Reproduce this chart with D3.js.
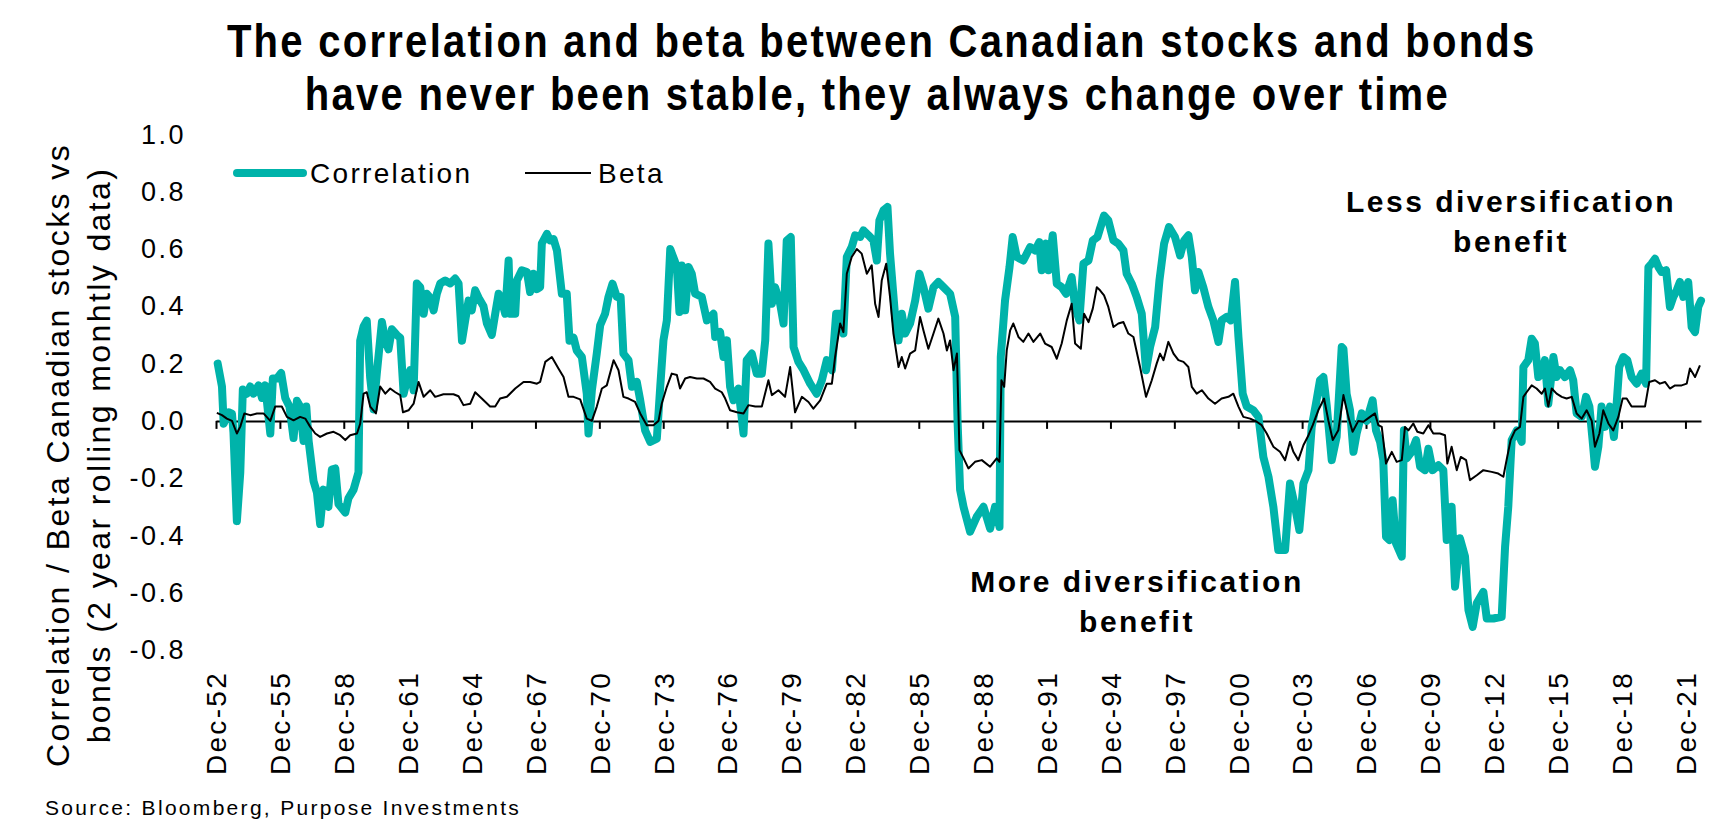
<!DOCTYPE html>
<html>
<head>
<meta charset="utf-8">
<script src="https://cdn.jsdelivr.net/npm/d3@7"></script>
<style>
body { margin: 0; background: #fff; }
svg { display: block; font-family: "Liberation Sans", Arial, sans-serif; }
</style>
</head>
<body>
<svg id="chart"></svg>
<script>
// values (decimal years)
var corrYears = [1953.00,1953.20,1953.28,1953.51,1953.67,1953.74,1953.90,1954.06,1954.18,1954.37,1954.53,1954.68,1954.92,1955.08,1955.23,1955.47,1955.59,1955.78,1955.98,1956.17,1956.37,1956.56,1956.72,1956.87,1957.03,1957.16,1957.27,1957.50,1957.66,1957.81,1957.97,1958.20,1958.36,1958.52,1958.67,1958.99,1959.14,1959.38,1959.61,1959.69,1959.85,1960.00,1960.16,1960.32,1960.47,1960.71,1960.87,1961.02,1961.18,1961.41,1961.57,1961.73,1961.88,1962.04,1962.20,1962.35,1962.51,1962.67,1962.82,1962.98,1963.14,1963.29,1963.45,1963.68,1963.92,1964.15,1964.31,1964.47,1964.62,1964.78,1964.93,1965.09,1965.25,1965.48,1965.64,1965.87,1966.03,1966.19,1966.34,1966.50,1966.66,1966.73,1966.97,1967.05,1967.28,1967.52,1967.67,1967.83,1967.99,1968.14,1968.22,1968.46,1968.61,1968.77,1968.93,1969.16,1969.39,1969.52,1969.71,1969.86,1970.10,1970.33,1970.41,1970.57,1970.80,1970.96,1971.19,1971.35,1971.54,1971.74,1971.92,1972.05,1972.29,1972.45,1972.68,1972.84,1973.07,1973.31,1973.62,1973.78,1973.93,1974.09,1974.25,1974.45,1974.56,1974.68,1974.79,1974.95,1975.11,1975.26,1975.42,1975.73,1975.97,1976.28,1976.36,1976.59,1976.75,1976.91,1977.06,1977.22,1977.45,1977.69,1977.84,1978.08,1978.31,1978.55,1978.71,1978.86,1979.02,1979.17,1979.41,1979.57,1979.72,1979.91,1980.04,1980.27,1980.51,1980.82,1981.13,1981.37,1981.60,1981.84,1982.04,1982.23,1982.38,1982.54,1982.77,1982.93,1983.17,1983.32,1983.56,1983.79,1983.95,1984.07,1984.26,1984.45,1984.57,1984.81,1984.97,1985.12,1985.28,1985.51,1985.75,1985.95,1986.14,1986.37,1986.61,1986.84,1987.08,1987.39,1987.63,1987.74,1987.86,1988.02,1988.33,1988.64,1988.96,1989.27,1989.50,1989.71,1989.77,1989.97,1990.18,1990.33,1990.52,1990.83,1991.15,1991.38,1991.58,1991.69,1991.90,1992.01,1992.21,1992.40,1992.63,1992.84,1993.10,1993.26,1993.46,1993.65,1993.89,1994.09,1994.31,1994.62,1994.82,1995.06,1995.29,1995.53,1995.68,1995.92,1996.15,1996.39,1996.59,1996.78,1997.02,1997.22,1997.44,1997.67,1997.95,1998.19,1998.38,1998.58,1998.74,1998.89,1999.05,1999.28,1999.52,1999.75,1999.99,2000.14,2000.38,2000.57,2000.77,2000.93,2001.13,2001.32,2001.63,2001.87,2002.10,2002.34,2002.57,2002.80,2003.12,2003.35,2003.59,2003.79,2003.98,2004.22,2004.37,2004.57,2004.76,2004.92,2005.08,2005.31,2005.54,2005.78,2005.86,2006.01,2006.17,2006.33,2006.48,2006.72,2006.95,2007.23,2007.39,2007.58,2007.73,2007.86,2008.02,2008.17,2008.33,2008.60,2008.70,2008.83,2009.06,2009.27,2009.46,2009.69,2009.85,2010.05,2010.32,2010.55,2010.71,2010.94,2011.10,2011.33,2011.57,2011.73,2011.93,2012.12,2012.43,2012.59,2012.90,2013.29,2013.45,2013.60,2013.76,2014.00,2014.23,2014.31,2014.54,2014.70,2014.85,2015.01,2015.17,2015.32,2015.48,2015.72,2015.87,2016.03,2016.26,2016.50,2016.65,2016.81,2017.05,2017.25,2017.41,2017.56,2017.67,2017.83,2017.98,2018.14,2018.38,2018.56,2018.69,2018.81,2019.00,2019.19,2019.39,2019.63,2019.86,2020.07,2020.18,2020.33,2020.49,2020.65,2020.80,2021.01,2021.19,2021.35,2021.51,2021.66,2021.82,2022.05,2022.21,2022.37,2022.52,2022.65];
var corrValues = [0.20,0.12,-0.01,0.03,0.025,-0.04,-0.35,-0.18,0.11,0.095,0.12,0.095,0.124,0.08,0.124,-0.044,0.148,0.148,0.167,0.08,0.05,-0.06,0.07,0.05,-0.07,0.05,-0.07,-0.21,-0.25,-0.36,-0.24,-0.30,-0.17,-0.166,-0.29,-0.32,-0.27,-0.24,-0.18,0.28,0.33,0.35,0.15,0.04,0.165,0.345,0.28,0.25,0.32,0.30,0.29,0.095,0.14,0.177,0.107,0.48,0.467,0.374,0.444,0.43,0.386,0.444,0.48,0.49,0.48,0.497,0.48,0.28,0.35,0.42,0.386,0.456,0.43,0.40,0.34,0.30,0.374,0.444,0.42,0.374,0.56,0.374,0.374,0.49,0.526,0.52,0.45,0.514,0.46,0.467,0.62,0.653,0.63,0.635,0.595,0.444,0.444,0.28,0.29,0.246,0.223,0.095,-0.044,0.107,0.235,0.334,0.374,0.433,0.479,0.433,0.433,0.235,0.212,0.119,0.136,0.072,-0.033,-0.073,-0.062,0.119,0.281,0.351,0.60,0.56,0.537,0.38,0.543,0.386,0.537,0.514,0.444,0.433,0.351,0.374,0.293,0.31,0.223,0.281,0.119,0.072,0.113,-0.044,0.212,0.235,0.165,0.165,0.281,0.619,0.409,0.467,0.409,0.34,0.63,0.642,0.258,0.206,0.177,0.13,0.095,0.142,0.212,0.177,0.374,0.374,0.305,0.572,0.607,0.648,0.642,0.665,0.648,0.63,0.56,0.70,0.735,0.747,0.584,0.363,0.281,0.374,0.305,0.34,0.42,0.514,0.467,0.392,0.467,0.485,0.467,0.444,0.363,0.0,-0.24,-0.30,-0.387,-0.335,-0.30,-0.376,-0.30,-0.37,0.223,0.42,0.537,0.642,0.572,0.56,0.607,0.595,0.624,0.526,0.619,0.526,0.648,0.479,0.467,0.444,0.502,0.398,0.351,0.549,0.56,0.63,0.642,0.717,0.70,0.63,0.619,0.595,0.514,0.479,0.433,0.374,0.177,0.258,0.328,0.49,0.619,0.677,0.642,0.578,0.63,0.648,0.572,0.456,0.52,0.467,0.398,0.351,0.276,0.351,0.363,0.351,0.485,0.293,0.095,0.05,0.037,0.014,-0.126,-0.195,-0.30,-0.451,-0.451,-0.219,-0.30,-0.381,-0.219,-0.172,-0.021,0.06,0.142,0.153,0.05,-0.137,-0.056,0.258,0.252,0.095,0.037,-0.108,-0.044,0.026,0.0,0.072,-0.033,-0.073,-0.137,-0.405,-0.416,-0.277,-0.428,-0.474,-0.033,-0.131,-0.108,-0.067,-0.16,-0.172,-0.097,-0.172,-0.155,-0.172,-0.416,-0.30,-0.579,-0.41,-0.474,-0.66,-0.719,-0.637,-0.597,-0.69,-0.69,-0.684,-0.44,-0.30,-0.067,-0.033,-0.073,0.188,0.212,0.287,0.27,0.153,0.165,0.212,0.06,0.223,0.153,0.177,0.153,0.177,0.142,0.026,0.014,0.084,0.05,-0.067,-0.16,-0.09,0.05,-0.021,0.05,-0.056,0.06,0.188,0.223,0.212,0.153,0.13,0.165,0.13,0.537,0.549,0.566,0.537,0.52,0.526,0.398,0.433,0.456,0.485,0.433,0.485,0.328,0.31,0.398,0.42];

var betaYears = [1952.96,1953.20,1953.43,1953.67,1953.90,1954.06,1954.25,1954.53,1954.84,1955.15,1955.47,1955.70,1956.01,1956.25,1956.56,1956.87,1957.11,1957.34,1957.58,1957.81,1958.13,1958.44,1958.75,1958.99,1959.22,1959.54,1959.69,1959.85,1960.00,1960.16,1960.43,1960.63,1960.87,1961.10,1961.34,1961.57,1961.70,1961.96,1962.20,1962.43,1962.67,1962.98,1963.21,1963.60,1964.07,1964.31,1964.54,1964.86,1965.09,1965.40,1965.79,1966.03,1966.26,1966.58,1966.97,1967.36,1967.67,1967.99,1968.14,1968.38,1968.69,1969.00,1969.24,1969.47,1969.71,1970.02,1970.33,1970.57,1970.80,1971.04,1971.27,1971.59,1971.82,1972.05,1972.29,1972.60,1972.84,1973.15,1973.46,1973.70,1973.85,1974.09,1974.32,1974.56,1974.71,1974.95,1975.18,1975.50,1975.81,1976.12,1976.36,1976.67,1976.83,1977.06,1977.38,1977.69,1977.92,1978.24,1978.55,1978.86,1979.02,1979.33,1979.64,1979.88,1980.11,1980.43,1980.74,1980.97,1981.29,1981.60,1981.84,1981.99,1982.23,1982.38,1982.54,1982.77,1983.01,1983.24,1983.48,1983.71,1983.87,1984.03,1984.18,1984.39,1984.57,1984.73,1984.97,1985.12,1985.28,1985.51,1985.75,1985.98,1986.14,1986.37,1986.61,1986.84,1987.08,1987.24,1987.39,1987.55,1987.71,1987.83,1988.02,1988.25,1988.56,1988.88,1989.27,1989.58,1989.71,1989.80,1989.93,1990.05,1990.21,1990.36,1990.60,1990.83,1991.07,1991.30,1991.62,1991.85,1992.16,1992.40,1992.63,1992.87,1993.10,1993.26,1993.53,1993.68,1993.89,1994.09,1994.28,1994.43,1994.62,1994.82,1995.06,1995.29,1995.53,1995.76,1996.00,1996.31,1996.59,1996.86,1997.09,1997.25,1997.41,1997.64,1997.88,1998.11,1998.35,1998.58,1998.74,1998.97,1999.21,1999.52,1999.83,2000.14,2000.46,2000.69,2000.93,2001.16,2001.48,2001.79,2002.02,2002.26,2002.57,2002.88,2003.12,2003.35,2003.51,2003.74,2003.98,2004.22,2004.42,2004.68,2004.95,2005.15,2005.36,2005.62,2005.86,2006.09,2006.29,2006.56,2006.80,2007.11,2007.34,2007.50,2007.66,2007.86,2008.13,2008.36,2008.60,2008.75,2008.91,2009.14,2009.33,2009.61,2009.85,2010.08,2010.39,2010.63,2010.74,2010.94,2011.18,2011.37,2011.62,2011.80,2012.12,2012.43,2012.82,2013.13,2013.37,2013.52,2013.71,2013.92,2014.15,2014.31,2014.46,2014.70,2014.93,2015.17,2015.32,2015.48,2015.64,2015.87,2016.11,2016.34,2016.58,2016.81,2017.05,2017.28,2017.52,2017.67,2017.88,2018.06,2018.30,2018.53,2018.77,2018.97,2019.16,2019.39,2019.71,2020.02,2020.22,2020.49,2020.72,2020.96,2021.19,2021.43,2021.74,2021.98,2022.13,2022.37,2022.60];
var betaValues = [0.028,0.02,0.008,0.0,-0.044,-0.02,0.026,0.02,0.026,0.026,0.0,0.05,0.05,0.014,0.002,0.014,0.008,-0.02,-0.044,-0.056,-0.044,-0.038,-0.05,-0.067,-0.05,-0.044,-0.01,0.095,0.10,0.05,0.026,0.12,0.095,0.113,0.10,0.09,0.03,0.037,0.06,0.136,0.084,0.107,0.084,0.093,0.093,0.086,0.055,0.06,0.10,0.078,0.05,0.05,0.078,0.084,0.113,0.136,0.136,0.13,0.136,0.206,0.223,0.183,0.153,0.084,0.084,0.075,0.008,0.0,0.05,0.113,0.124,0.212,0.177,0.084,0.078,0.066,0.026,-0.015,-0.015,0.0,0.06,0.119,0.165,0.16,0.113,0.148,0.153,0.148,0.148,0.136,0.113,0.10,0.078,0.037,0.03,0.026,0.055,0.05,0.05,0.142,0.09,0.107,0.084,0.188,0.03,0.084,0.066,0.043,0.072,0.13,0.13,0.223,0.34,0.31,0.514,0.572,0.60,0.584,0.514,0.543,0.409,0.363,0.49,0.549,0.433,0.305,0.188,0.223,0.183,0.235,0.246,0.363,0.316,0.252,0.305,0.357,0.305,0.246,0.281,0.177,0.235,-0.102,-0.13,-0.166,-0.143,-0.137,-0.16,-0.131,-0.143,0.142,0.119,0.246,0.316,0.34,0.293,0.276,0.305,0.276,0.305,0.27,0.258,0.217,0.27,0.351,0.409,0.27,0.252,0.374,0.345,0.392,0.467,0.456,0.438,0.398,0.328,0.34,0.345,0.305,0.293,0.188,0.084,0.142,0.20,0.235,0.212,0.276,0.235,0.212,0.206,0.188,0.119,0.095,0.107,0.078,0.06,0.078,0.084,0.095,0.05,0.014,0.008,-0.003,-0.015,-0.044,-0.09,-0.108,-0.137,-0.073,-0.108,-0.137,-0.085,-0.05,-0.015,0.037,0.078,0.002,-0.067,-0.033,0.09,0.014,-0.038,0.0,-0.003,0.014,0.026,-0.015,-0.021,-0.149,-0.108,-0.143,-0.137,-0.021,-0.033,-0.009,-0.038,-0.044,-0.015,-0.044,-0.044,-0.05,-0.149,-0.09,-0.172,-0.126,-0.137,-0.207,-0.19,-0.172,-0.178,-0.184,-0.195,-0.137,-0.067,-0.033,-0.021,0.084,0.10,0.124,0.113,0.095,0.113,0.05,0.113,0.095,0.084,0.078,0.084,0.026,0.008,0.037,0.0,-0.09,-0.044,0.037,-0.009,-0.033,0.014,0.078,0.078,0.05,0.05,0.05,0.136,0.142,0.13,0.136,0.113,0.124,0.124,0.13,0.183,0.153,0.194];

var tickYears = [1952.92,1955.92,1958.92,1961.92,1964.92,1967.92,1970.92,1973.92,1976.92,1979.92,1982.92,1985.92,1988.92,1991.92,1994.92,1997.92,2000.92,2003.92,2006.92,2009.92,2012.92,2015.92,2018.92,2021.92];
var tickLabels = ["Dec-52","Dec-55","Dec-58","Dec-61","Dec-64","Dec-67","Dec-70","Dec-73","Dec-76","Dec-79","Dec-82","Dec-85","Dec-88","Dec-91","Dec-94","Dec-97","Dec-00","Dec-03","Dec-06","Dec-09","Dec-12","Dec-15","Dec-18","Dec-21"];
var yTicks = [1.0, 0.8, 0.6, 0.4, 0.2, 0.0, -0.2, -0.4, -0.6, -0.8];

var teal = "#00b3aa";
var width = 1732, height = 832;

var svg = d3.select("#chart")
    .attr("width", width)
    .attr("height", height);
svg.append("rect").attr("width", width).attr("height", height).attr("fill", "#fff");

var x = d3.scaleLinear()
    .domain([1952.92, 2022.65])
    .range([216, 1701]);

var y = d3.scaleLinear()
    .domain([-0.8, 1.0])
    .range([650, 134.5]);

// title, squeezed horizontally to look like a narrow bold face
var title = svg.append("g")
    .attr("transform", "translate(880,0) scale(0.87,1)")
    .style("font-weight", "bold")
    .style("font-size", "46px")
    .style("letter-spacing", "2.6px")
    .attr("text-anchor", "middle");
title.append("text").attr("x", 2).attr("y", 57)
    .text("The correlation and beta between Canadian stocks and bonds");
title.append("text").attr("x", -3).attr("y", 110)
    .text("have never been stable, they always change over time");

// y axis labels (no axis line)
var yAxis = svg.append("g")
    .attr("transform", "translate(186,0)")
    .call(d3.axisLeft(y).tickValues(yTicks).tickSize(0).tickPadding(0)
        .tickFormat(function (d) { return d.toFixed(1); }));
yAxis.select(".domain").remove();
yAxis.selectAll("text")
    .attr("fill", "#000")
    .style("font-family", "'Liberation Sans', Arial, sans-serif")
    .style("font-size", "27px")
    .style("letter-spacing", "2.5px");

// zero line with tick marks
var xAxis = svg.append("g")
    .attr("transform", "translate(0," + y(0) + ")")
    .call(d3.axisBottom(x).tickValues(tickYears).tickSize(8).tickSizeOuter(0).tickFormat(""));
xAxis.selectAll("path, line").attr("stroke", "#000").attr("stroke-width", 2);

// rotated category labels
var xLabels = svg.append("g")
    .attr("transform", "translate(0,723)")
    .call(d3.axisBottom(x).tickValues(tickYears).tickSize(0)
        .tickFormat(function (d, i) { return tickLabels[i]; }));
xLabels.select(".domain").remove();
xLabels.selectAll("text")
    .attr("y", 0)
    .attr("x", 0)
    .attr("dy", "0.35em")
    .attr("transform", "rotate(-90)")
    .attr("text-anchor", "middle")
    .attr("fill", "#000")
    .style("font-family", "'Liberation Sans', Arial, sans-serif")
    .style("font-size", "28px")
    .style("letter-spacing", "2.3px");

// y axis title
var yTitle = svg.append("g")
    .attr("text-anchor", "middle")
    .style("font-size", "32px")
    .style("letter-spacing", "2.4px");
yTitle.append("text")
    .attr("transform", "translate(58,455) rotate(-90)")
    .attr("dy", "0.35em")
    .text("Correlation / Beta Canadian stocks vs");
yTitle.append("text")
    .attr("transform", "translate(99,455) rotate(-90)")
    .attr("dy", "0.35em")
    .text("bonds (2 year rolling monhtly data)");

// series
var line = d3.line()
    .x(function (d) { return x(d[0]); })
    .y(function (d) { return y(d[1]); });

svg.append("path")
    .datum(d3.zip(corrYears, corrValues))
    .attr("fill", "none")
    .attr("stroke", teal)
    .attr("stroke-width", 8)
    .attr("stroke-linejoin", "round")
    .attr("stroke-linecap", "round")
    .attr("d", line);

svg.append("path")
    .datum(d3.zip(betaYears, betaValues))
    .attr("fill", "none")
    .attr("stroke", "#000")
    .attr("stroke-width", 2)
    .attr("stroke-linejoin", "round")
    .attr("d", line);

// legend
var legend = svg.append("g")
    .style("font-size", "28px")
    .style("letter-spacing", "2.3px");
legend.append("line")
    .attr("x1", 237).attr("x2", 303).attr("y1", 173).attr("y2", 173)
    .attr("stroke", teal).attr("stroke-width", 8).attr("stroke-linecap", "round");
legend.append("text").attr("x", 310).attr("y", 183).text("Correlation");
legend.append("line")
    .attr("x1", 525).attr("x2", 591).attr("y1", 173).attr("y2", 173)
    .attr("stroke", "#000").attr("stroke-width", 2);
legend.append("text").attr("x", 598).attr("y", 183).text("Beta");

// annotations
var notes = svg.append("g")
    .attr("text-anchor", "middle")
    .style("font-weight", "bold")
    .style("font-size", "30px")
    .style("letter-spacing", "2.5px");
notes.append("text").attr("x", 1511).attr("y", 212).text("Less diversification");
notes.append("text").attr("x", 1511).attr("y", 252).text("benefit");
notes.append("text").attr("x", 1137).attr("y", 592).text("More diversification");
notes.append("text").attr("x", 1137).attr("y", 632).text("benefit");

// source
svg.append("text")
    .attr("x", 45)
    .attr("y", 815)
    .style("font-size", "21px")
    .style("letter-spacing", "2.3px")
    .text("Source: Bloomberg, Purpose Investments");
</script>
</body>
</html>
